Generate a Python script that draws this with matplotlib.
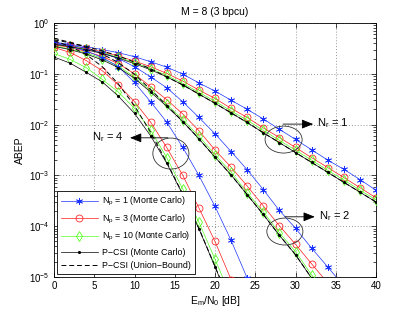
import matplotlib
matplotlib.use("Agg")
import matplotlib.pyplot as plt
from matplotlib.patches import Ellipse
import numpy as np

plt.rcParams['font.family'] = ['Liberation Sans', 'DejaVu Sans']
plt.rcParams['mathtext.fontset'] = 'custom'
plt.rcParams['mathtext.rm'] = 'Liberation Sans'
plt.rcParams['mathtext.it'] = 'Liberation Sans:italic'
plt.rcParams['mathtext.default'] = 'regular'

snr_db = [0, 2, 4, 6, 8, 10, 12, 14, 16, 18, 20, 22, 24, 26, 28, 30, 32, 34, 36, 38, 40]

# ---- Nr = 1 ----
nr1_np1 = [0.42, 0.38, 0.34, 0.30, 0.26, 0.217, 0.173, 0.135, 0.0986, 0.066, 0.0457,
           0.0302, 0.020, 0.0129, 0.0081, 0.0051, 0.0032, 0.0020, 0.00132, 0.00083, 0.00051]
nr1_np3 = [0.40, 0.363, 0.316, 0.272, 0.224, 0.178, 0.138, 0.102, 0.0718, 0.0479, 0.0327,
           0.0209, 0.0138, 0.0086, 0.00557, 0.00355, 0.00224, 0.00143, 0.00091, 0.000575, 0.000363]
nr1_np10 = [0.389, 0.351, 0.305, 0.26, 0.211, 0.166, 0.126, 0.0933, 0.0646, 0.0432, 0.0288,
            0.0186, 0.0122, 0.00767, 0.0049, 0.00313, 0.0020, 0.00126, 0.000813, 0.000513, 0.000331]
nr1_pcsi = [0.38, 0.343, 0.298, 0.251, 0.204, 0.158, 0.120, 0.0871, 0.0603, 0.0398, 0.0263,
            0.017, 0.011, 0.0069, 0.00442, 0.00282, 0.0018, 0.00115, 0.000733, 0.000468, 0.000299]
nr1_ub = [0.468, 0.407, 0.347, 0.282, 0.224, 0.170, 0.126, 0.0871, 0.0603, 0.0398, 0.0263,
          0.017, 0.011, 0.0069, 0.00442, 0.00282, 0.0018, 0.00115, 0.000733, 0.000468, 0.000299]

# ---- Nr = 2 ----
nr2_np1 = [0.407, 0.368, 0.316, 0.257, 0.20, 0.138, 0.087, 0.0531, 0.0282, 0.0138, 0.0066,
           0.00295, 0.00129, 0.000525, 0.000204, 9.1e-5, 3.7e-5, 1.58e-5, 6.6e-6]
nr2_np3 = [0.372, 0.331, 0.275, 0.219, 0.158, 0.10, 0.0555, 0.0309, 0.0162, 0.00759, 0.00316,
           0.00145, 0.000617, 0.000251, 0.000102, 4.4e-5, 1.82e-5, 7.6e-6]
nr2_np10 = [0.355, 0.309, 0.257, 0.20, 0.141, 0.087, 0.0468, 0.0251, 0.0126, 0.00589, 0.00257,
            0.00115, 0.000457, 0.000191, 7.4e-5, 3.16e-5, 1.1e-5, 4.5e-6]
nr2_pcsi = [0.347, 0.299, 0.245, 0.188, 0.132, 0.0813, 0.0437, 0.0229, 0.0115, 0.00525, 0.00229,
            0.00102, 0.000417, 0.00017, 6.6e-5, 2.75e-5, 9.5e-6]
nr2_ub = [0.50, 0.417, 0.331, 0.245, 0.166, 0.0977, 0.049, 0.024, 0.0115, 0.00525, 0.00229,
          0.00102, 0.000417, 0.00017, 6.6e-5, 2.75e-5, 9.5e-6]

# ---- Nr = 4 ----
nr4_np1 = [0.398, 0.347, 0.282, 0.209, 0.138, 0.0676, 0.0282, 0.0112, 0.00355, 0.001,
           0.000245, 5.25e-5, 9.5e-6]
nr4_np3 = [0.331, 0.263, 0.182, 0.115, 0.0603, 0.0282, 0.0112, 0.00355, 0.001, 0.000229,
           5.0e-5, 8.9e-6]
nr4_np10 = [0.251, 0.192, 0.132, 0.0776, 0.0437, 0.0209, 0.00776, 0.00224, 0.000537, 0.00012,
            2.24e-5, 4.0e-6]
nr4_pcsi = [0.214, 0.162, 0.107, 0.0692, 0.0363, 0.0166, 0.00603, 0.00174, 0.000417, 8.9e-5,
            1.58e-5, 2.8e-6]
nr4_ub = [0.447, 0.347, 0.24, 0.138, 0.063, 0.0234, 0.00708, 0.00182, 0.000427, 9.1e-5,
          1.62e-5, 2.8e-6]

legend_labels = [r'N$_\mathregular{p}$ = 1 (Monte Carlo)',
                 r'N$_\mathregular{p}$ = 3 (Monte Carlo)',
                 r'N$_\mathregular{p}$ = 10 (Monte Carlo)',
                 'P\u2212CSI (Monte Carlo)',
                 'P\u2212CSI (Union\u2212Bound)']
x_ticks = [0, 5, 10, 15, 20, 25, 30, 35, 40]

BLUE = '#1a33ff'
RED = '#ff1a1a'
GREEN = '#55ff22'

fig = plt.figure(figsize=(4.15, 3.13), dpi=100)
ax = fig.add_axes([54/415, 36/313, 322/415, 254/313])

groups = [(nr1_np1, nr1_np3, nr1_np10, nr1_pcsi, nr1_ub),
          (nr2_np1, nr2_np3, nr2_np10, nr2_pcsi, nr2_ub),
          (nr4_np1, nr4_np3, nr4_np10, nr4_pcsi, nr4_ub)]

lw = 0.5
for gi, (b, r, g, k, u) in enumerate(groups):
    lab = (lambda i: legend_labels[i]) if gi == 0 else (lambda i: None)
    ax.plot(snr_db[:len(b)], b, color=BLUE, lw=lw, marker=(6, 2, 0), ms=5, mew=0.55,
            label=lab(0), zorder=3)
    ax.plot(snr_db[:len(r)], r, color=RED, lw=lw, marker='o', ms=5, mfc='none', mew=0.55,
            label=lab(1), zorder=3)
    ax.plot(snr_db[:len(g)], g, color=GREEN, lw=lw, marker='d', ms=4.6, mfc='none', mew=0.6,
            label=lab(2), zorder=3)
    ax.plot(snr_db[:len(k)], k, color='k', lw=lw, marker='.', ms=2.5,
            label=lab(3), zorder=4)
    ax.plot(snr_db[:len(u)], u, color='k', lw=0.7, ls=(0, (5, 3)),
            label=lab(4), zorder=4)

ax.set_yscale('log')
ax.set_xlim(0, 40)
ax.set_ylim(1e-5, 1)
ax.set_xticks(x_ticks)
ax.tick_params(which='both', direction='in', top=True, right=True, labelsize=7,
               width=0.5, pad=3)
ax.tick_params(which='major', length=3.5)
ax.tick_params(which='minor', length=2)
ax.grid(True, which='major', color='0.45', ls=(0, (1, 2.5)), lw=0.6)
for s in ax.spines.values():
    s.set_linewidth(0.6)

ax.set_title('M = 8 (3 bpcu)', fontsize=7.5, pad=6)
ax.set_xlabel(r'E$_\mathregular{m}$/N$_\mathregular{0}$ [dB]', fontsize=7.5, labelpad=2)
ax.set_ylabel('ABEP', fontsize=7.5, labelpad=3)

leg = ax.legend(loc='lower left', bbox_to_anchor=(0.0, 0.0), fontsize=6.4, frameon=True,
                fancybox=False, edgecolor='k', framealpha=1, handlelength=4.2,
                handletextpad=0.5, borderaxespad=0.3, labelspacing=0.5, borderpad=0.45)
leg.get_frame().set_linewidth(0.6)

# annotations (axes-fraction coordinates)
ell_kw = dict(fill=False, edgecolor='0.2', lw=0.6, transform=ax.transAxes, zorder=5)
ax.add_patch(Ellipse((0.713, 0.541), 0.115, 0.106, **ell_kw))
ax.add_patch(Ellipse((0.363, 0.486), 0.112, 0.122, **ell_kw))
ax.add_patch(Ellipse((0.717, 0.179), 0.112, 0.106, **ell_kw))

arr = dict(arrowstyle='-|>,head_length=0.7,head_width=0.28', color='k', lw=0.6,
           shrinkA=0, shrinkB=0)
ax.annotate('', xy=(0.805, 0.602), xytext=(0.711, 0.602), xycoords='axes fraction',
            arrowprops=arr)
ax.text(0.818, 0.604, r'N$_\mathregular{r}$ = 1', transform=ax.transAxes, fontsize=8,
        va='center', ha='left')
ax.annotate('', xy=(0.236, 0.548), xytext=(0.354, 0.548), xycoords='axes fraction',
            arrowprops=arr)
ax.text(0.216, 0.550, r'N$_\mathregular{r}$ = 4', transform=ax.transAxes, fontsize=8,
        va='center', ha='right')
ax.annotate('', xy=(0.810, 0.237), xytext=(0.717, 0.237), xycoords='axes fraction',
            arrowprops=arr)
ax.text(0.824, 0.239, r'N$_\mathregular{r}$ = 2', transform=ax.transAxes, fontsize=8,
        va='center', ha='left')

fig.savefig('out.png', dpi=100)
